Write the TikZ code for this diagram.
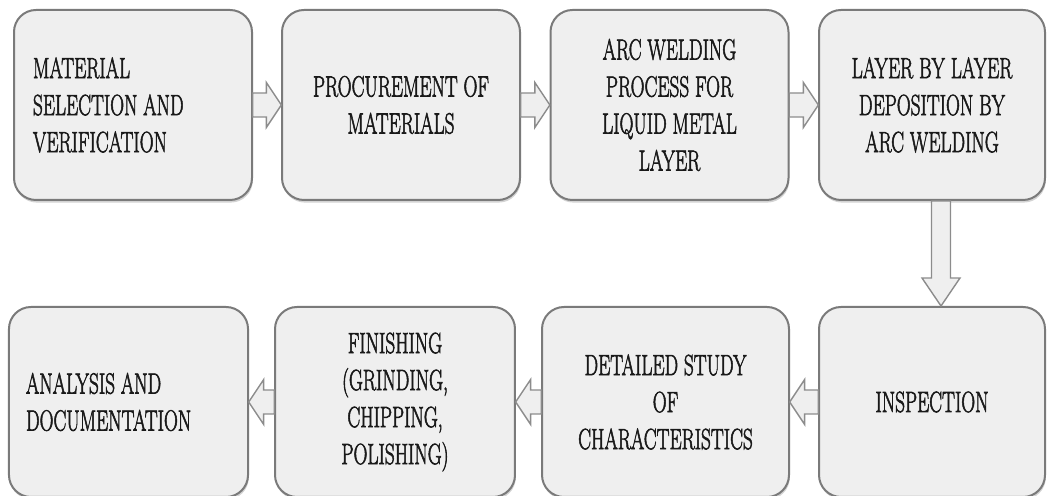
\documentclass[tikz,border=0pt]{standalone}
\usepackage{fontspec}
\setmainfont{Latin Modern Roman}[FakeBold=2.5]
\usetikzlibrary{calc,shadows}

\definecolor{boxfill}{HTML}{EFEFEF}
\definecolor{boxline}{HTML}{7A7A7A}
\definecolor{arrowline}{HTML}{8C8C8C}

\tikzset{
  % box and text are narrowed together
  stepbox/.style={draw=boxline, fill=boxfill, line width=1pt, rounded corners=11pt,
    xscale=0.66, transform shape,
    minimum height=95pt, minimum width=180.3pt, align=center, inner sep=4pt,
    font=\fontsize{14.6}{18.5}\selectfont, text=black!90,
    drop shadow={shadow xshift=0.4pt, shadow yshift=-1.3pt, opacity=0.35}},
  % block arrow: half shaft, half head, head length
  flowarrow/.style n args={3}{draw=arrowline, fill=boxfill, line width=0.7pt,
    to path={
      ($(\tikztostart)!#1!90:(\tikztotarget)$)
      -- ($(\tikztotarget)!#3!(\tikztostart)!#1!90:(\tikztotarget)$)
      -- ($(\tikztotarget)!#3!(\tikztostart)!#2!90:(\tikztotarget)$)
      -- (\tikztotarget)
      -- ($(\tikztotarget)!#3!(\tikztostart)!#2!-90:(\tikztotarget)$)
      -- ($(\tikztotarget)!#3!(\tikztostart)!#1!-90:(\tikztotarget)$)
      -- ($(\tikztostart)!#1!-90:(\tikztotarget)$) -- cycle}},
  sidearrow/.style={flowarrow={6pt}{11.25pt}{7.5pt}},
  downarrow/.style={flowarrow={4.75pt}{9.5pt}{14pt}},
}

\begin{document}
\begin{tikzpicture}
  \useasboundingbox (0,0) rectangle (523.5pt,248pt);

  % top row
  \node[stepbox, text width=151.5pt, inner xsep=14.4pt, align=flush left] (select) at (66.5pt,195.5pt)
    {MATERIAL\\SELECTION AND\\VERIFICATION};
  \node[stepbox] (procure) at (200.5pt,195.5pt) {PROCUREMENT OF\\MATERIALS};
  \node[stepbox] (arcweld) at (334.75pt,195.5pt) {ARC WELDING\\PROCESS FOR\\LIQUID METAL\\LAYER};
  \node[stepbox, minimum width=171.2pt] (deposit) at (466pt,195.5pt) {LAYER BY LAYER\\DEPOSITION BY\\ARC WELDING};

  % bottom row
  \node[stepbox, text width=155.3pt, inner xsep=12.9pt, align=flush left] (analysis) at (64.25pt,47pt)
    {ANALYSIS AND\\DOCUMENTATION};
  \node[stepbox, minimum width=181.8pt] (finish) at (197.5pt,47pt) {FINISHING\\(GRINDING,\\CHIPPING,\\POLISHING)};
  \node[stepbox, minimum width=187.1pt] (study) at (332.75pt,47pt) {DETAILED STUDY\\OF\\CHARACTERISTICS};
  \node[stepbox, minimum width=171.2pt] (inspect) at (466pt,47pt) {INSPECTION};

  \draw[sidearrow] (select.east) to (procure.west);
  \draw[sidearrow] (procure.east) to (arcweld.west);
  \draw[sidearrow] (arcweld.east) to (deposit.west);
  \draw[downarrow] ([xshift=4.5pt]deposit.south) to ([xshift=4.5pt]inspect.north);
  \draw[sidearrow] (inspect.west) to (study.east);
  \draw[sidearrow] (study.west) to (finish.east);
  \draw[sidearrow] (finish.west) to (analysis.east);
\end{tikzpicture}
\end{document}
